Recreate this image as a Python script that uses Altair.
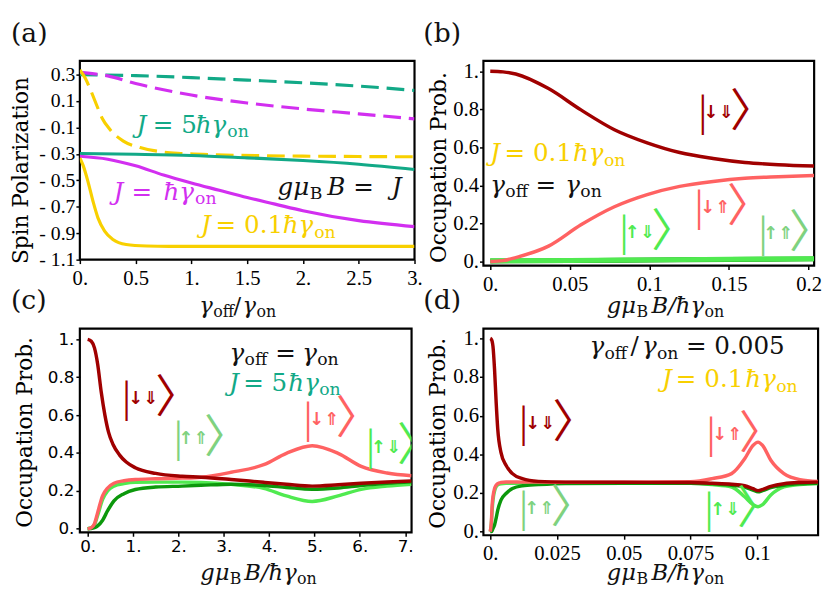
import json
import altair as alt
import pandas as pd

# ---------------- colours ----------------
TEAL = "#12a987"
MAGENTA = "#d22ff0"
GOLD = "#f8d000"
DARKRED = "#a00000"
SALMON = "#ff6262"
BGREEN = "#50ea50"
DGREEN = "#0c980c"
PGREEN = "#7fd27f"
BLACK = "#111111"

SERIF = "'DejaVu Serif', 'Liberation Serif', serif"
TSERIF = "'Liberation Serif', 'DejaVu Serif', serif"
SANS = "'DejaVu Sans', sans-serif"
CJK = "'Noto Sans CJK JP', 'Noto Sans CJK SC', 'DejaVu Sans', sans-serif"

# ---------------- panel (a) data ----------------
A_X_G5_DASH = [0, 0.5, 1, 1.5, 2, 2.5, 3]
A_Y_G5_DASH = [0.30, 0.292, 0.277, 0.258, 0.238, 0.213, 0.18]
A_X_M1_DASH = [0, 0.25, 0.5, 0.75, 1, 1.25, 1.5, 2, 2.5, 3]
A_Y_M1_DASH = [0.317, 0.29, 0.232, 0.185, 0.145, 0.112, 0.085, 0.04, 0.003, -0.035]
A_X_Y01_DASH = [0, 0.05, 0.1, 0.15, 0.2, 0.27, 0.39, 0.54, 0.72, 0.92, 1.22, 1.6, 2, 2.5, 3]
A_Y_Y01_DASH = [0.335, 0.27, 0.175, 0.07, -0.03, -0.116, -0.203, -0.252, -0.283, -0.297,
                -0.307, -0.313, -0.317, -0.32, -0.322]
A_X_G5 = [0, 0.5, 1, 1.5, 2, 2.5, 3]
A_Y_G5 = [-0.297, -0.303, -0.312, -0.33, -0.35, -0.378, -0.418]
A_X_M1 = [0, 0.25, 0.5, 0.75, 1, 1.25, 1.5, 1.75, 2, 2.5, 3]
A_Y_M1 = [-0.318, -0.34, -0.39, -0.46, -0.52, -0.575, -0.63, -0.68, -0.73, -0.805, -0.85]
A_X_Y01 = [0, 0.03, 0.074, 0.119, 0.163, 0.222, 0.296, 0.415, 0.6, 0.8, 1, 1.5, 2, 3]
A_Y_Y01 = [-0.33, -0.389, -0.513, -0.662, -0.786, -0.884, -0.947, -0.985, -0.997, -1.0,
           -1.0, -1.0, -1.0, -1.0]
A_XTICKS = [0, 0.5, 1, 1.5, 2, 2.5, 3]
A_XLABELS = ["0.", "0.5", "1.", "1.5", "2.", "2.5", "3."]
A_YTICKS = [0.3, 0.1, -0.1, -0.3, -0.5, -0.7, -0.9, -1.1]
A_YLABELS = ["0.3", "0.1", "- 0.1", "- 0.3", "- 0.5", "- 0.7", "- 0.9", "- 1.1"]

# ---------------- panel (b) data ----------------
B_X = [0, 0.008, 0.016, 0.0366, 0.057, 0.078, 0.0986, 0.119, 0.14, 0.16, 0.181, 0.2035]
B_DR = [1.0, 0.997, 0.986, 0.909, 0.797, 0.693, 0.624, 0.573, 0.542, 0.521, 0.509, 0.502]
B_SA = [0.0, 0.005, 0.021, 0.081, 0.193, 0.288, 0.352, 0.395, 0.421, 0.438, 0.446, 0.452]
B_XG = [0, 0.05, 0.1, 0.15, 0.2035]
B_DG = [0.003, 0.005, 0.008, 0.011, 0.014]
B_BG = [0.004, 0.006, 0.009, 0.012, 0.015]
B_XTICKS = [0, 0.05, 0.1, 0.15, 0.2]
B_XLABELS = ["0.", "0.05", "0.1", "0.15", "0.2"]
P_YTICKS = [0, 0.2, 0.4, 0.6, 0.8, 1.0]
P_YLABELS = ["0.", "0.2", "0.4", "0.6", "0.8", "1."]

# ---------------- panel (c) data ----------------
C_X = [0, 0.08, 0.15, 0.22, 0.33, 0.44, 0.58, 0.8, 1.05, 1.5, 2.08, 2.5, 3.16, 3.88, 4.38,
       4.95, 5.52, 6.03, 6.6, 7.14]
C_X_DR = [0, 0.08, 0.15, 0.22, 0.3, 0.38, 0.46, 0.56, 0.7, 0.85, 1.05, 1.5, 2.08, 2.5, 3.16,
          3.88, 4.38, 4.95, 5.52, 6.03, 6.6, 7.14]
C_DR = [1.0, 0.99, 0.955, 0.87, 0.72, 0.6, 0.51, 0.445, 0.39, 0.352, 0.322, 0.292, 0.277,
        0.272, 0.26, 0.245, 0.235, 0.225, 0.232, 0.24, 0.247, 0.252]
C_SA = [0, 0.005, 0.026, 0.085, 0.175, 0.215, 0.24, 0.253, 0.26, 0.264, 0.267, 0.272, 0.298,
        0.338, 0.398, 0.438, 0.398, 0.329, 0.294, 0.28]
C_BG = [0, 0.004, 0.02, 0.07, 0.155, 0.2, 0.225, 0.238, 0.245, 0.246, 0.246, 0.244, 0.234,
        0.213, 0.173, 0.144, 0.173, 0.208, 0.225, 0.235]
C_DG = [0, 0.001, 0.005, 0.015, 0.045, 0.095, 0.147, 0.185, 0.207, 0.22, 0.225, 0.229, 0.235,
        0.228, 0.218, 0.208, 0.215, 0.228, 0.24, 0.248]
C_XTICKS = [0, 1, 2, 3, 4, 5, 6, 7]
C_XLABELS = ["0.", "1.", "2.", "3.", "4.", "5.", "6.", "7."]

# ---------------- panel (d) data ----------------
D_X = [0, 0.0004, 0.0007, 0.001, 0.0016, 0.0022, 0.0028, 0.004, 0.0059, 0.0083, 0.012, 0.018,
       0.028, 0.05, 0.075, 0.0831, 0.0904, 0.0953, 0.0984, 0.1003, 0.102, 0.1051, 0.11, 0.116,
       0.1228]
D_DR = [1.0, 0.995, 0.985, 0.96, 0.84, 0.67, 0.53, 0.41, 0.343, 0.30, 0.274, 0.26, 0.256, 0.255,
        0.254, 0.25, 0.245, 0.237, 0.222, 0.212, 0.218, 0.234, 0.248, 0.254, 0.256]
D_SA = [0, 0.05, 0.137, 0.18, 0.223, 0.24, 0.248, 0.254, 0.257, 0.257, 0.256, 0.256, 0.255,
        0.255, 0.258, 0.274, 0.30, 0.377, 0.446, 0.463, 0.446, 0.369, 0.30, 0.269, 0.26]
D_BG = [0, 0.04, 0.11, 0.16, 0.21, 0.232, 0.242, 0.248, 0.25, 0.25, 0.25, 0.25, 0.25, 0.25,
        0.25, 0.243, 0.231, 0.18, 0.14, 0.129, 0.14, 0.189, 0.231, 0.244, 0.249]
D_DG = [0, 0.0, 0.005, 0.015, 0.034, 0.07, 0.111, 0.163, 0.197, 0.223, 0.237, 0.243, 0.249,
        0.25, 0.25, 0.247, 0.24, 0.231, 0.215, 0.206, 0.212, 0.228, 0.24, 0.247, 0.25]
D_XTICKS = [0, 0.025, 0.05, 0.075, 0.1]
D_XLABELS = ["0.", "0.025", "0.05", "0.075", "0.1"]

# ---------------- panel geometry (orig = as measured, r = rendered) ----------------
PA = dict(ox=81, oy=55, w=337, h=202, rox=78, roy=55, rw=340, rh=202, xd=[0, 3], yd=[-1.1, 0.404])
PB = dict(ox=488, oy=55, w=336, h=208, rox=488, roy=55, rw=336, rh=208, xd=[-0.0043, 0.2035], yd=[-0.021, 1.055])
PC = dict(ox=75, oy=325, w=340, h=207, rox=78, roy=327, rw=337, rh=207, xd=[-0.172, 7.14], yd=[-0.019, 1.057])
PD = dict(ox=487, oy=329, w=341, h=208, rox=488, roy=327, rw=340, rh=210, xd=[-0.00257, 0.1228], yd=[-0.019, 1.051])


def to_data(P, px, py, rendered=False):
    if rendered:
        ox, oy, w, h = P['rox'], P['roy'], P['rw'], P['rh']
    else:
        ox, oy, w, h = P['ox'], P['oy'], P['w'], P['h']
    x0, x1 = P['xd']
    y0, y1 = P['yd']
    return x0 + (px - ox) / w * (x1 - x0), y1 - (py - oy) / h * (y1 - y0)


def math(P, pieces, baseline, fs, color, rendered=False):
    """pieces: (text, style i/n/s, anchor x, align)"""
    rows = []
    for t, st, ax, al in pieces:
        f = fs * 0.7 if st == 's' else fs
        yy = baseline + (0.18 * fs if st == 's' else 0)
        x, y = to_data(P, ax, yy, rendered)
        rows.append(dict(x=x, y=y, t=t, fs=f, c=color, it=(st == 'i'), al=al))
    return rows


BRK_FS = 46


def ket(P, arrows, left, right, cy, color):
    x, y = to_data(P, left + 1, cy)
    bar = dict(x=x, y=y, t="|", fs=44, c=color)
    x, y = to_data(P, (left + right) / 2 - 2, cy)
    arr = dict(x=x, y=y, t=arrows, fs=18, c=color)
    # the CJK angle bracket sits in the left part of its em box
    x, y = to_data(P, right - 5 + 0.4 * BRK_FS, cy)
    brk = dict(x=x, y=y, t="〉", fs=BRK_FS, c=color)
    return [bar], [arr], [brk]


def lab_expr(ticks, labels):
    return f"{json.dumps(labels)}[indexof({json.dumps(ticks)}, datum.value)]"


def xaxis(ticks, labels, font=TSERIF, fs=21, pad=4):
    return alt.Axis(values=ticks, labelExpr=lab_expr(ticks, labels), title=None,
                    labelFont=font, labelFontSize=fs, labelPadding=pad, tickSize=4,
                    labelFlush=False, labelOverlap=False, domain=False, grid=False,
                    tickColor="black", tickWidth=1.5, labelColor="black")


def yaxis(ticks, labels, title, tx, ty, font=TSERIF, fs=21, pad=1):
    return alt.Axis(values=ticks, labelExpr=lab_expr(ticks, labels), title=title,
                    labelFont=font, labelFontSize=fs, labelPadding=pad, tickSize=4,
                    labelFlush=False, labelOverlap=False, domain=False, grid=False,
                    tickColor="black", tickWidth=1.5, labelColor="black",
                    titleFont=SERIF, titleFontSize=22, titleFontWeight="normal",
                    titleColor="black", titleAngle=270, titleX=tx, titleY=ty,
                    titleBaseline="alphabetic", titleAlign="center")


def panel(P, series, texts, kets, xax, yax):
    X = alt.X("x:Q", scale=alt.Scale(domain=P['xd'], nice=False, zero=False), axis=xax)
    Y = alt.Y("y:Q", scale=alt.Scale(domain=P['yd'], nice=False, zero=False), axis=yax)
    layers = []
    for xs, ys, color, sw, dash in series:
        df = pd.DataFrame({"x": xs, "y": ys})
        mk = dict(color=color, strokeWidth=sw, interpolate="monotone", clip=True)
        if dash:
            mk["strokeDash"] = dash
        layers.append(alt.Chart(df).mark_line(**mk).encode(x=X, y=Y))
    S = alt.Size("fs:Q", scale=None, legend=None)
    C = alt.Color("c:N", scale=None, legend=None)
    for italic in (True, False):
        for al in ("left", "center", "right"):
            rows = [r for r in texts if r['it'] == italic and r['al'] == al]
            if not rows:
                continue
            mk = dict(font=SERIF, align=al, baseline="alphabetic")
            if italic:
                mk["fontStyle"] = "italic"
            layers.append(alt.Chart(pd.DataFrame(rows)).mark_text(**mk).encode(
                x=X, y=Y, text="t:N", size=S, color=C))
    if kets:
        bars = sum([k[0] for k in kets], [])
        arr = sum([k[1] for k in kets], [])
        brk = sum([k[2] for k in kets], [])
        layers.append(alt.Chart(pd.DataFrame(bars)).mark_text(
            font=TSERIF, align="center", baseline="middle", clip=True
        ).encode(x=X, y=Y, text="t:N", size=S, color=C))
        layers.append(alt.Chart(pd.DataFrame(arr)).mark_text(
            font=SANS, fontWeight="bold", align="center", baseline="middle", clip=True
        ).encode(x=X, y=Y, text="t:N", size=S, color=C))
        layers.append(alt.Chart(pd.DataFrame(brk)).mark_text(
            font=CJK, align="center", baseline="middle", clip=True
        ).encode(x=X, y=Y, text="t:N", size=S, color=C))
    return alt.layer(*layers).properties(width=P['rw'], height=P['rh'])


T = 25   # annotation font size
TT = 23  # axis-title font size

# ---------------- panel (a) ----------------
ta = []
ta += math(PA, [("J", "i", 138, "left"), ("= 5", "n", 176.7, "center"),
                ("ħγ", "i", 228.5, "right"), ("on", "s", 229.5, "left")], 128, T, TEAL)
ta += math(PA, [("J", "i", 115, "left"), ("=", "n", 143.3, "center"),
                ("ħγ", "i", 196, "right"), ("on", "s", 197, "left")], 196, T, MAGENTA)
ta += math(PA, [("J", "i", 203, "left"), ("= 0.1", "n", 251.7, "center"),
                ("ħγ", "i", 316, "right"), ("on", "s", 317, "left")], 230, T, GOLD)
ta += math(PA, [("gμ", "i", 312, "right"), ("B", "s", 312.5, "left"), ("B", "i", 330, "left"),
                ("=", "n", 366.7, "center"), ("J", "i", 405, "right")], 191, T, BLACK)
ta += math(PA, [("γ", "i", 213, "right"), ("off", "s", 213.5, "left"), ("/", "n", 238, "center"),
                ("γ", "i", 257, "right"), ("on", "s", 257.5, "left")], 311, TT, BLACK, rendered=True)
ta += math(PA, [("(a)", "n", 8, "left")], 35.5, 27, BLACK, rendered=True)

chart_a = panel(
    PA,
    [(A_X_G5_DASH, A_Y_G5_DASH, TEAL, 3.2, [18, 8]),
     (A_X_M1_DASH, A_Y_M1_DASH, MAGENTA, 3.2, [18, 8]),
     (A_X_Y01_DASH, A_Y_Y01_DASH, GOLD, 3.2, [18, 8]),
     (A_X_G5, A_Y_G5, TEAL, 3.2, None),
     (A_X_M1, A_Y_M1, MAGENTA, 3.2, None),
     (A_X_Y01, A_Y_Y01, GOLD, 3.2, None)],
    ta, [],
    xaxis(A_XTICKS, A_XLABELS),
    yaxis(A_YTICKS, A_YLABELS, "Spin Polarization", -53, 111, fs=20),
)

# ---------------- panel (b) ----------------
TITLE_B = [("gμ", "i", 643, "right"), ("B", "s", 643.5, "left"),
           ("B/ħγ", "i", 712, "right"), ("on", "s", 712.5, "left")]
tb = []
tb += math(PB, [("J", "i", 495, "left"), ("= 0.1", "n", 543.7, "center"),
                ("ħγ", "i", 610, "right"), ("on", "s", 610.5, "left")], 157, T, GOLD)
tb += math(PB, [("γ", "i", 510, "right"), ("off", "s", 510.3, "left"), ("=", "n", 551.3, "center"),
                ("γ", "i", 586, "right"), ("on", "s", 586.5, "left")], 189, T, BLACK)
tb += math(PB, TITLE_B, 311, TT, BLACK, rendered=True)
tb += math(PB, [("(b)", "n", 427, "left")], 35.5, 27, BLACK, rendered=True)
kb = [ket(PB, "↓⇓", 710, 748, 108, DARKRED),
      ket(PB, "↓⇑", 706, 745, 205, SALMON),
      ket(PB, "↑⇓", 630, 668, 230, BGREEN),
      ket(PB, "↑⇑", 771, 808, 231, PGREEN)]
chart_b = panel(
    PB,
    [(B_XG, B_DG, DGREEN, 5, None),
     (B_XG, B_BG, BGREEN, 5, None),
     (B_X, B_SA, SALMON, 3.5, None),
     (B_X, B_DR, DARKRED, 3.5, None)],
    tb, kb,
    xaxis(B_XTICKS, B_XLABELS),
    yaxis(P_YTICKS, P_YLABELS, "Occupation Prob.", -39, 108),
)

# ---------------- panel (c) ----------------
tc = []
tc += math(PC, [("γ", "i", 243.5, "right"), ("off", "s", 243.8, "left"), ("=", "n", 285.8, "center"),
                ("γ", "i", 318, "right"), ("on", "s", 318.3, "left")], 358, T, BLACK)
tc += math(PC, [("J", "i", 228, "left"), ("= 5", "n", 265, "center"),
                ("ħγ", "i", 320, "right"), ("on", "s", 320.3, "left")], 388, T, TEAL)
tc += math(PC, [("gμ", "i", 230, "right"), ("B", "s", 230.3, "left"),
                ("B/ħγ", "i", 298.3, "right"), ("on", "s", 298.6, "left")], 582, TT, BLACK,
           rendered=True)
tc += math(PC, [("(c)", "n", 8, "left")], 307.5, 27, BLACK, rendered=True)
kc = [ket(PC, "↓⇓", 122, 162, 397, DARKRED),
      ket(PC, "↓⇑", 308, 347, 418, SALMON),
      ket(PC, "↑⇑", 175, 212, 437, PGREEN),
      ket(PC, "↑⇓", 372, 410, 446, BGREEN)]
chart_c = panel(
    PC,
    [(C_X, C_BG, BGREEN, 3.5, None),
     (C_X, C_DG, DGREEN, 3.5, None),
     (C_X, C_SA, SALMON, 3.5, None),
     (C_X_DR, C_DR, DARKRED, 3.5, None)],
    tc, kc,
    xaxis(C_XTICKS, C_XLABELS, font=SANS, fs=17, pad=3),
    yaxis(P_YTICKS, P_YLABELS, "Occupation Prob.", -49, 105, font=SANS, fs=17, pad=2),
)

# ---------------- panel (d) ----------------
td = []
td += math(PD, [("γ", "i", 610, "right"), ("off", "s", 610.3, "left"), ("/", "n", 641, "center"),
                ("γ", "i", 663.5, "right"), ("on", "s", 663.8, "left"),
                ("= 0.005", "n", 693.3, "left")], 355, T, BLACK)
td += math(PD, [("J", "i", 669, "left"), ("= 0.1", "n", 717.5, "center"),
                ("ħγ", "i", 785, "right"), ("on", "s", 785.3, "left")], 388, T, GOLD)
td += math(PD, TITLE_B, 582, TT, BLACK, rendered=True)
td += math(PD, [("(d)", "n", 427, "left")], 307.5, 27, BLACK, rendered=True)
kd = [ket(PD, "↓⇓", 527, 567, 425, DARKRED),
      ket(PD, "↓⇑", 718, 757, 436, SALMON),
      ket(PD, "↑⇑", 527, 565, 511, PGREEN),
      ket(PD, "↑⇓", 716, 755, 512, BGREEN)]
chart_d = panel(
    PD,
    [(D_X, D_BG, BGREEN, 3.5, None),
     (D_X, D_DG, DGREEN, 3.5, None),
     (D_X, D_SA, SALMON, 3.5, None),
     (D_X, D_DR, DARKRED, 3.5, None)],
    td, kd,
    xaxis(D_XTICKS, D_XLABELS),
    yaxis(P_YTICKS, P_YLABELS, "Occupation Prob.", -40, 106),
)

chart = alt.concat(
    chart_a, chart_b, chart_c, chart_d, columns=2, bounds="flush",
    spacing={"row": 64, "column": 70},
).properties(
    padding={"left": 0, "top": 6, "right": 0, "bottom": 0},
).configure_view(stroke="black", strokeWidth=2.2)

chart.save("out.html", embed_options={"renderer": "svg", "actions": False})
